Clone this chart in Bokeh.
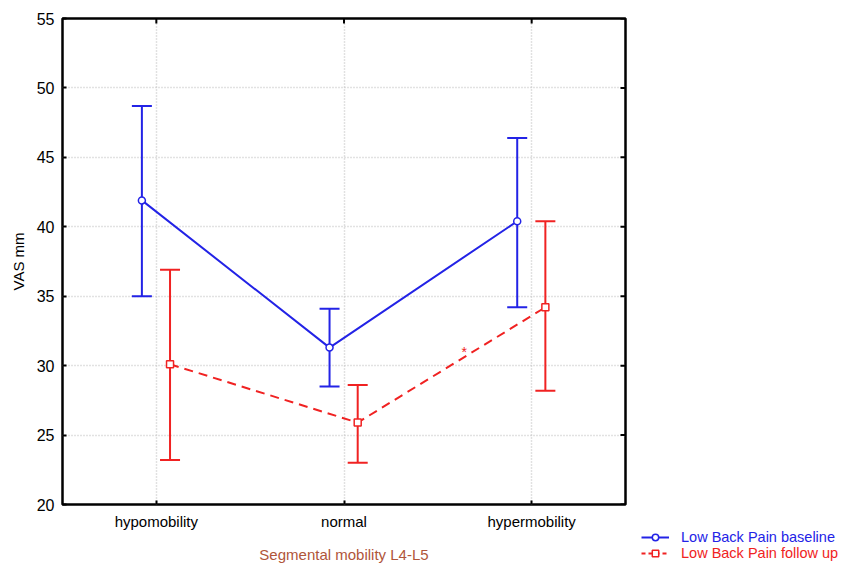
import math
from bokeh.plotting import figure
from bokeh.models import (ColumnDataSource, Whisker, TeeHead, FixedTicker,
                          Range1d, Legend, LegendItem, Label, Spacer)
from bokeh.layouts import row, column
from bokeh.embed import file_html
from bokeh.resources import INLINE

categories = ["hypomobility", "normal", "hypermobility"]
baseline_mean = [41.9, 31.3, 40.4]
baseline_upper = [48.7, 34.1, 46.4]
baseline_lower = [35.0, 28.5, 34.2]
followup_mean = [30.1, 25.9, 34.2]
followup_upper = [36.9, 28.6, 40.4]
followup_lower = [23.2, 23.0, 28.2]
y_ticks = [20, 25, 30, 35, 40, 45, 50, 55]
asterisk_pos = (2.64, 31.0)
series_names = ["Low Back Pain baseline", "Low Back Pain follow up"]

BLUE = "#2323e6"
RED = "#f02222"
FONT = "Liberation Sans"

xs = [i + 1 for i in range(len(categories))]
xb = [x - 0.077 for x in xs]
xr = [x + 0.073 for x in xs]

src_b = ColumnDataSource(dict(x=xb, m=baseline_mean, u=baseline_upper, l=baseline_lower))
src_r = ColumnDataSource(dict(x=xr, m=followup_mean, u=followup_upper, l=followup_lower))

x0, x1 = 0.5, len(categories) + 0.5
y0, y1 = y_ticks[0], y_ticks[-1]

p = figure(width=630, height=565, output_backend="svg", toolbar_location=None,
           x_range=Range1d(x0, x1), y_range=Range1d(y0, y1),
           min_border_left=62, min_border_right=5, min_border_top=18, min_border_bottom=59)
p.outline_line_color = "black"
p.outline_line_width = 2.5

for ax in (p.xaxis[0], p.yaxis[0]):
    ax.axis_line_color = None
    ax.major_tick_in = 4
    ax.major_tick_out = 0
    ax.minor_tick_line_color = None
    ax.major_tick_line_width = 2
    ax.major_label_text_font = FONT
    ax.major_label_text_color = "black"
    ax.axis_label_text_font = FONT
    ax.axis_label_text_font_style = "normal"

p.xaxis.ticker = FixedTicker(ticks=xs)
p.xaxis.major_label_overrides = {x: c for x, c in zip(xs, categories)}
p.xaxis.major_label_text_font_size = "15px"
p.xaxis.major_label_standoff = 8
p.xaxis.axis_label = "Segmental mobility L4-L5"
p.xaxis.axis_label_text_color = "#b0553a"
p.xaxis.axis_label_text_font_size = "15px"
p.xaxis.axis_label_standoff = 13

p.yaxis.ticker = FixedTicker(ticks=y_ticks)
p.yaxis.major_label_text_font_size = "16px"
p.yaxis.major_label_standoff = 8
p.yaxis.axis_label = "VAS mm"
p.yaxis.axis_label_text_color = "black"
p.yaxis.axis_label_text_font_size = "15px"
p.yaxis.axis_label_standoff = 7

p.xgrid.ticker = FixedTicker(ticks=xs)
p.ygrid.ticker = FixedTicker(ticks=y_ticks)
for g in (p.xgrid[0], p.ygrid[0]):
    g.grid_line_color = "#c4c4c4"
    g.grid_line_dash = "1 2"
    g.grid_line_width = 1.5

# inward tick marks on the top and right edges (half of each dash is clipped by the frame)
p.scatter(x=xs, y=[y1] * len(xs), marker="dash", size=10, angle=math.pi / 2,
          line_color="black", line_width=2)
p.scatter(x=[x1] * len(y_ticks), y=y_ticks, marker="dash", size=10,
          line_color="black", line_width=2)

def whisker(src, color):
    return Whisker(base="x", upper="u", lower="l", source=src, dimension="height",
                   line_color=color, line_width=2,
                   upper_head=TeeHead(size=20, line_color=color, line_width=2),
                   lower_head=TeeHead(size=20, line_color=color, line_width=2))

p.add_layout(whisker(src_b, BLUE))
p.add_layout(whisker(src_r, RED))

p.line("x", "m", source=src_b, line_color=BLUE, line_width=2)
p.line("x", "m", source=src_r, line_color=RED, line_width=2, line_dash="9 6")
p.scatter("x", "m", source=src_b, marker="circle", size=7, fill_color="white",
          line_color=BLUE, line_width=1.5)
p.scatter("x", "m", source=src_r, marker="square", size=7, fill_color="white",
          line_color=RED, line_width=1.5)

p.add_layout(Label(x=asterisk_pos[0], y=asterisk_pos[1], text="*", text_color=RED,
                   text_font=FONT, text_font_size="14px", text_align="center",
                   text_baseline="middle"))

# legend panel (renderers reuse the data, which lies outside this panel's view)
lf = figure(width=210, height=40, output_backend="svg", toolbar_location=None,
            x_range=Range1d(-10, -9), y_range=Range1d(-10, -9),
            min_border=0, outline_line_color=None)
lf.axis.visible = False
lf.grid.visible = False
lb = lf.line("x", "m", source=src_b, line_color=BLUE, line_width=2)
mb = lf.scatter("x", "m", source=src_b, marker="circle", size=7, fill_color="white",
                line_color=BLUE, line_width=1.5)
lr = lf.line("x", "m", source=src_r, line_color=RED, line_width=2, line_dash="4 3")
mr = lf.scatter("x", "m", source=src_r, marker="square", size=7, fill_color="white",
                line_color=RED, line_width=1.5)

def mk_legend(name, rends, color, loc):
    return Legend(items=[LegendItem(label=name, renderers=rends)], location=loc,
                  label_text_color=color, label_text_font=FONT, label_text_font_size="14.5px",
                  background_fill_alpha=0, border_line_color=None, padding=0, margin=0,
                  glyph_width=28, glyph_height=16, label_height=16, label_standoff=12,
                  spacing=0)

lf.add_layout(mk_legend(series_names[0], [lb, mb], BLUE, (11, 21)))
lf.add_layout(mk_legend(series_names[1], [lr, mr], RED, (11, 5)))

layout = row(p, column(Spacer(height=526), lf))
open("out.html", "w").write(file_html(layout, INLINE))
